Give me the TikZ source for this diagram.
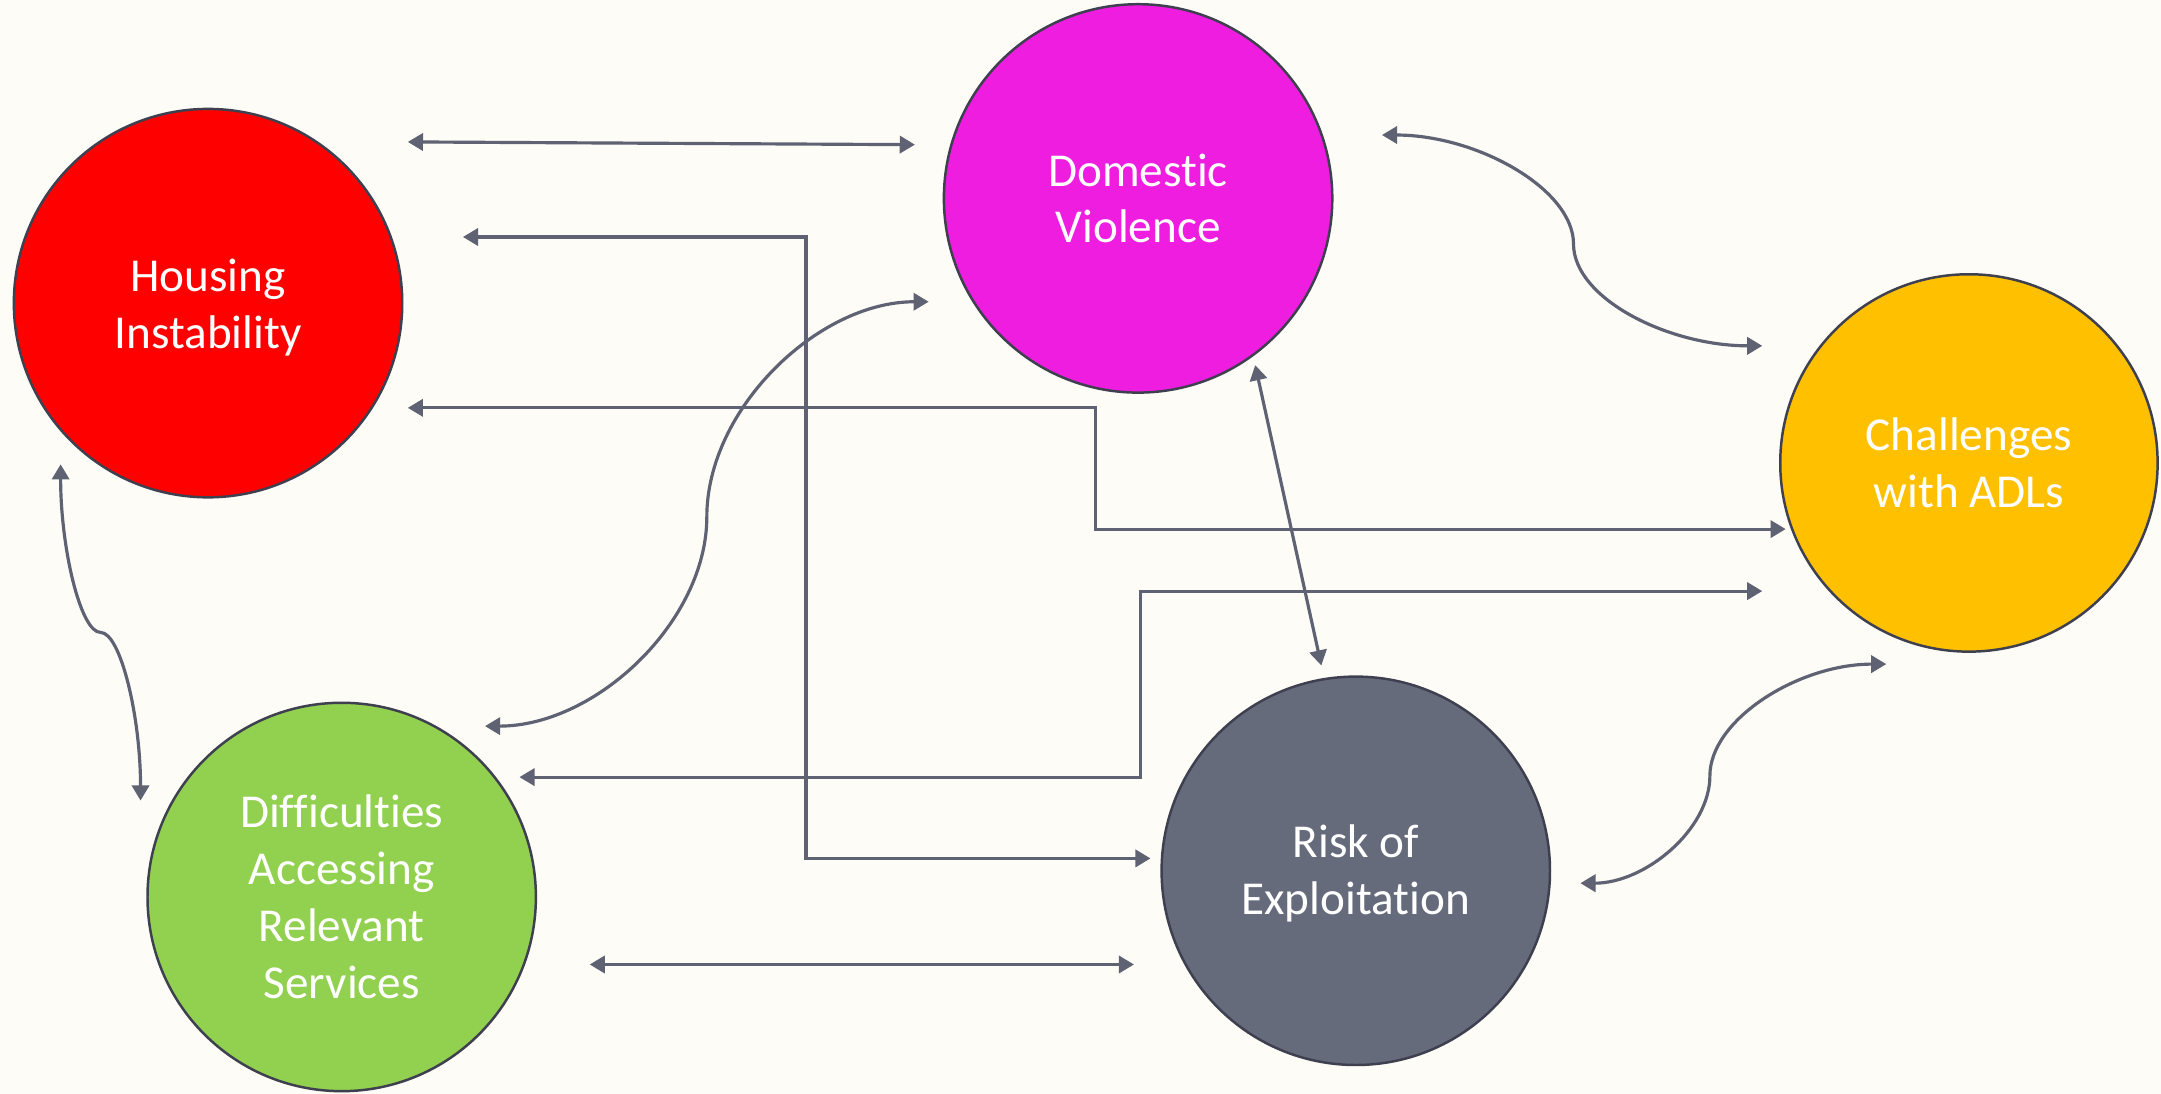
\documentclass[tikz,border=0pt]{standalone}
\usepackage{fontspec}
\setmainfont{Carlito}[Ligatures=NoCommon]
\usetikzlibrary{arrows.meta}
\definecolor{bgc}{HTML}{FDFCF6}
\definecolor{linec}{HTML}{5E6272}
\definecolor{edgec}{HTML}{3E4050}
\definecolor{cred}{HTML}{FF0000}
\definecolor{cmag}{HTML}{EE1DE0}
\definecolor{corange}{HTML}{FFC000}
\definecolor{cgreen}{HTML}{92D050}
\definecolor{cgray}{HTML}{666B7B}
\tikzset{
  bubble/.style={circle, draw=edgec, line width=1.8*0.02cm, minimum size=#1*0.04cm, inner sep=0pt},
  lbl/.style={text=white, align=center, inner sep=0pt, font=\fontsize{19.5}{23.5}\selectfont},
  link/.style={draw=linec, line width=2.3*0.02cm,
    {Triangle[length=0.22cm,width=0.25cm]}-{Triangle[length=0.22cm,width=0.25cm]}},
}
\begin{document}
\begin{tikzpicture}[x=0.02cm,y=-0.02cm]
\fill[bgc] (0,0) rectangle (1568.4,794);
\useasboundingbox (0,0) rectangle (1568.4,794);
\node[bubble=141, fill=cred] (hi) at (151,220) {};
\node[bubble=141, fill=cmag] (dv) at (826,144) {};
\node[bubble=137, fill=corange] (ca) at (1429,336) {};
\node[bubble=141, fill=cgreen] (da) at (248,651) {};
\node[bubble=141, fill=cgray] (re) at (984,632) {};
\node[lbl] (hi-t) at ([yshift=-3*0.02cm]hi.center) {Housing\\Instability};
\node[lbl] (dv-t) at (dv.center) {Domestic\\Violence};
\node[lbl] (ca-t) at (ca.center) {Challenges\\with ADLs};
\node[lbl] (da-t) at (da.center) {Difficulties\\Accessing\\Relevant\\Services};
\node[lbl] (re-t) at ([yshift=-2*0.02cm]re.center) {Risk of\\Exploitation};
% connector endpoints
\coordinate (a1) at (296,103); \coordinate (a2) at (664,105);
\coordinate (b1) at (336,172); \coordinate (b2) at (835,623);
\coordinate (c1) at (296,296); \coordinate (c2) at (1296,384);
\coordinate (d1) at (377,564); \coordinate (d2) at (1279,429);
\coordinate (e1) at (428,700); \coordinate (e2) at (823,700);
\coordinate (f1) at (911,265); \coordinate (f2) at (959,483);
\coordinate (g1) at (1003,98); \coordinate (gm) at (1142,177); \coordinate (g2) at (1279,251);
\coordinate (h1) at (674,219); \coordinate (hm) at (513,375); \coordinate (h2) at (352,527);
\coordinate (i1) at (44,337); \coordinate (im) at (73,459); \coordinate (i2) at (102,581);
\coordinate (j1) at (1369,482); \coordinate (jm) at (1241,563); \coordinate (j2) at (1147,641);
\draw[link] (a1) -- (a2);
\draw[link] (b1) -- (585,172) -- (585,623) -- (b2);
\draw[link] (c1) -- (795,296) -- (795,384) -- (c2);
\draw[link] (d1) -- (828,564) -- (828,429) -- (d2);
\draw[link] (e1) -- (e2);
\draw[link] (f1) -- (f2);
\draw[link] (g1) .. controls (1072.5,98) and (1142,137.5) .. (gm)
                 .. controls (1142,216.5) and (1210.5,251) .. (g2);
\draw[link] (h1) .. controls (593.5,219) and (513,297) .. (hm)
                 .. controls (513,451) and (432.5,527) .. (h2);
\draw[link] (i1) .. controls (44,398) and (58.5,459) .. (im)
                 .. controls (87.5,459) and (102,520) .. (i2);
\draw[link] (j1) .. controls (1305,482) and (1241,522.5) .. (jm)
                 .. controls (1241,602) and (1194,641) .. (j2);
\end{tikzpicture}
\end{document}
